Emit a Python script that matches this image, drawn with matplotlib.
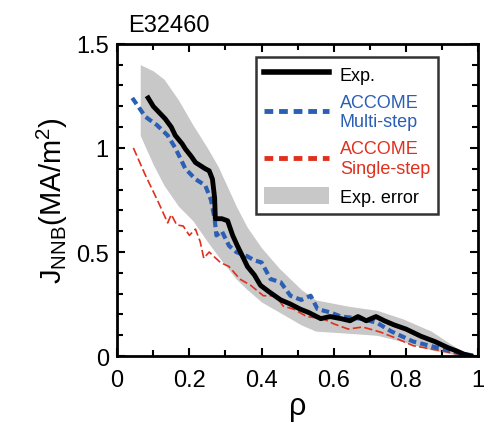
import matplotlib
matplotlib.use("Agg")
import matplotlib.pyplot as plt
from matplotlib.ticker import MultipleLocator
from matplotlib.patches import Patch
from matplotlib.lines import Line2D

plt.rcParams["font.family"] = ["Liberation Sans", "DejaVu Sans"]

# --- data ---
exp_rho = [0.086, 0.10, 0.133, 0.15, 0.161, 0.18, 0.189, 0.205, 0.217, 0.235, 0.244,
           0.255, 0.264, 0.27, 0.272, 0.29, 0.306, 0.32, 0.333, 0.35, 0.361, 0.38,
           0.397, 0.42, 0.453, 0.48, 0.508, 0.53, 0.564, 0.59, 0.62, 0.645, 0.667,
           0.69, 0.717, 0.74, 0.767, 0.80, 0.842, 0.88, 0.917, 0.94, 0.96, 0.98]
exp_j = [1.24, 1.20, 1.14, 1.10, 1.06, 1.02, 0.995, 0.96, 0.93, 0.91, 0.90,
         0.89, 0.85, 0.76, 0.66, 0.66, 0.65, 0.58, 0.53, 0.47, 0.43, 0.39,
         0.34, 0.31, 0.27, 0.25, 0.225, 0.21, 0.18, 0.19, 0.18, 0.17, 0.19,
         0.17, 0.19, 0.17, 0.15, 0.13, 0.095, 0.07, 0.04, 0.025, 0.01, 0.0]

multi_rho = [0.042, 0.078, 0.11, 0.14, 0.161, 0.189, 0.217, 0.244, 0.26, 0.27, 0.275,
             0.29, 0.31, 0.33, 0.36, 0.38, 0.40, 0.425, 0.453, 0.48, 0.51, 0.536,
             0.555, 0.59, 0.62, 0.675, 0.72, 0.758, 0.82, 0.90, 0.96, 1.0]
multi_j = [1.24, 1.15, 1.11, 1.06, 1.0, 0.90, 0.85, 0.82, 0.75, 0.66, 0.58,
           0.60, 0.53, 0.50, 0.48, 0.46, 0.45, 0.37, 0.355, 0.29, 0.27, 0.29,
           0.226, 0.21, 0.19, 0.18, 0.16, 0.12, 0.07, 0.035, 0.01, 0.0]

single_rho = [0.045, 0.078, 0.114, 0.14, 0.15, 0.165, 0.183, 0.20, 0.217, 0.23, 0.24,
              0.255, 0.267, 0.286, 0.31, 0.34, 0.37, 0.405, 0.44, 0.46, 0.49, 0.525,
              0.57, 0.60, 0.64, 0.68, 0.73, 0.767, 0.82, 0.90, 0.94, 0.97]
single_j = [1.0, 0.87, 0.74, 0.64, 0.68, 0.63, 0.625, 0.58, 0.61, 0.55, 0.47,
            0.50, 0.48, 0.45, 0.43, 0.37, 0.34, 0.29, 0.29, 0.24, 0.225, 0.19,
            0.18, 0.155, 0.13, 0.14, 0.115, 0.09, 0.05, 0.025, 0.01, 0.0]

band_rho = [0.064, 0.10, 0.13, 0.17, 0.21, 0.25, 0.28, 0.33, 0.36, 0.40, 0.45,
            0.51, 0.55, 0.64, 0.72, 0.79, 0.87, 0.94, 0.98]
band_hi = [1.40, 1.37, 1.33, 1.23, 1.11, 1.00, 0.91, 0.72, 0.62, 0.52, 0.42,
           0.32, 0.27, 0.24, 0.22, 0.18, 0.12, 0.04, 0.0]
band_lo = [1.06, 0.92, 0.82, 0.72, 0.65, 0.55, 0.48, 0.37, 0.32, 0.26, 0.21,
           0.15, 0.12, 0.11, 0.10, 0.07, 0.03, 0.005, 0.0]

BLUE = "#2b5fb4"
RED = "#e0301e"

fig = plt.figure(figsize=(4.84, 4.35), dpi=100)
ax = fig.add_axes([0.242, 0.179, 0.746, 0.718])

ax.fill_between(band_rho, band_lo, band_hi, color="#c8c8c8", linewidth=0)
ax.plot(single_rho, single_j, color=RED, lw=1.2, dashes=(5, 2))
ax.plot(multi_rho, multi_j, color=BLUE, lw=3, dashes=(1.8, 1.0))
ax.plot(exp_rho, exp_j, color="black", lw=3.5)

ax.set_xlim(0, 1)
ax.set_ylim(0, 1.5)
ax.xaxis.set_minor_locator(MultipleLocator(0.1))
ax.yaxis.set_minor_locator(MultipleLocator(0.1))
ax.set_xticks([0, 0.2, 0.4, 0.6, 0.8, 1.0])
ax.set_xticklabels(["0", "0.2", "0.4", "0.6", "0.8", "1"])
ax.set_yticks([0, 0.5, 1.0, 1.5])
ax.set_yticklabels(["0", "0.5", "1", "1.5"])
ax.tick_params(which="both", direction="in", top=True, right=True,
               labelsize=17, width=1.5, pad=6)
ax.tick_params(axis="x", which="major", pad=9)
ax.tick_params(which="major", length=6)
ax.tick_params(which="minor", length=4)
for s in ax.spines.values():
    s.set_linewidth(2)

ax.set_xlabel("ρ", fontsize=22, labelpad=0)
ax.set_ylabel(r"J$_{\mathregular{NNB}}$(MA/m$^{\mathregular{2}}$)", fontsize=21, labelpad=4)
ax.text(0.03, 1.025, "E32460", transform=ax.transAxes, fontsize=17,
        ha="left", va="bottom")

handles = [
    Line2D([], [], color="black", lw=4),
    Line2D([], [], color=BLUE, lw=3.5, dashes=(1.8, 1.2)),
    Line2D([], [], color=RED, lw=3.5, dashes=(1.8, 1.2)),
    Patch(facecolor="#c8c8c8", edgecolor="none"),
]
labels = ["Exp.", "ACCOME\nMulti-step", "ACCOME\nSingle-step", "Exp. error"]
leg = ax.legend(handles, labels, loc="upper right", bbox_to_anchor=(0.889, 0.958),
                fontsize=13, frameon=True, fancybox=False, handlelength=3.6,
                handleheight=1.1, labelspacing=0.55, borderpad=0.45,
                handletextpad=0.6, borderaxespad=0)
leg.get_frame().set_edgecolor("black")
leg.get_frame().set_linewidth(1.8)
for t, c in zip(leg.get_texts(), ["black", BLUE, RED, "black"]):
    t.set_color(c)

fig.savefig("out.png", dpi=100)
